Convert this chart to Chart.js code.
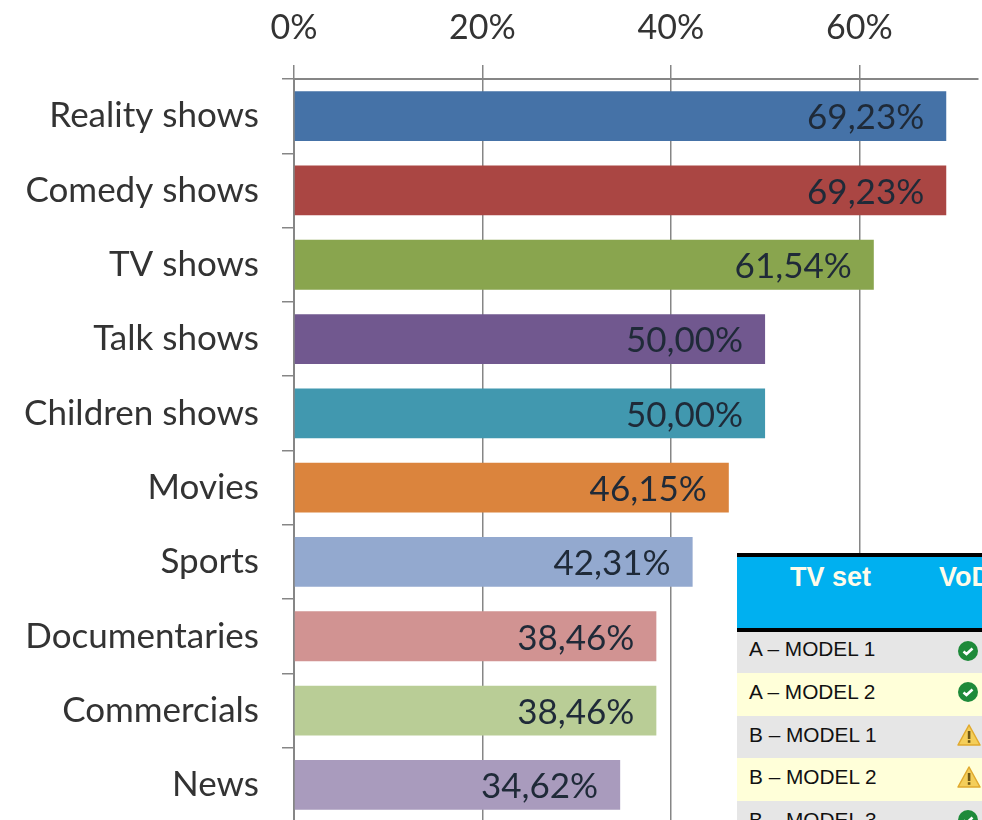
<!DOCTYPE html>
<html><head><meta charset="utf-8">
<script src="https://cdn.jsdelivr.net/npm/chart.js@4"></script>
<style>
html,body{margin:0;padding:0;background:#fff;overflow:hidden;width:982px;height:820px}
#wrap{position:relative;width:982px;height:820px;overflow:hidden}
canvas{position:absolute;left:0;top:0}
#tv{position:absolute;left:737px;top:553px;width:260px;background:#fff;font-family:"Liberation Sans",Arial,sans-serif}
#tv .h{height:71px;background:#00B0F0;border-top:4px solid #000;border-bottom:4px solid #000;position:relative;color:#FFFBEA;font-weight:bold;font-size:27px}
#tv .h span{position:absolute;top:5px}
#tv .r{position:relative;font-size:20.8px;color:#111}
#tv .r span{position:absolute;left:12px;top:7px;white-space:nowrap}
#tv .r:nth-child(2) span{top:5px}
#tv .r svg{position:absolute;left:220px;top:8px}
</style></head><body>
<div id="wrap"><canvas id="c" width="982" height="822"></canvas><div id="tv"></div></div>
<script>
const categories=["Reality shows","Comedy shows","TV shows","Talk shows","Children shows","Movies","Sports","Documentaries","Commercials","News"];
const values=[69.23,69.23,61.54,50,50,46.15,42.31,38.46,38.46,34.62];
const barColors=["#4572A7","#AA4643","#89A54E","#71588F","#4198AF","#DB843D","#93A9CF","#D19392","#B9CD96","#A99BBD"];
const tableHeaders=["TV set","VoD"];
const tableRows=["A – MODEL 1","A – MODEL 2","B – MODEL 1","B – MODEL 2","B – MODEL 3"];
const tableStatus=["ok","ok","warn","warn","ok"];

const FONT='Lato, "Noto Sans", sans-serif';
const valueLabels={id:'valueLabels',afterDatasetsDraw(chart){
  const ctx=chart.ctx,meta=chart.getDatasetMeta(0);
  ctx.save();ctx.font='35px '+FONT;ctx.fillStyle='#1f2a38';ctx.textAlign='right';ctx.textBaseline='middle';
  meta.data.forEach((b,i)=>ctx.fillText(values[i].toFixed(2).replace('.',',')+'%',b.x-22,b.y+2));
  ctx.restore();
}};
new Chart(document.getElementById('c'),{
  type:'bar',
  data:{labels:categories,datasets:[{data:values,backgroundColor:barColors,borderWidth:0,categoryPercentage:0.67,barPercentage:1}]},
  plugins:[valueLabels],
  options:{indexAxis:'y',responsive:false,animation:false,
    layout:{padding:{left:0,right:4,top:0,bottom:0}},
    plugins:{legend:{display:false},tooltip:{enabled:false}},
    scales:{
      x:{position:'top',min:0,max:72.6,
        ticks:{stepSize:20,includeBounds:false,maxRotation:0,autoSkip:false,padding:17,color:'#333',font:{family:FONT,size:34},callback:v=>v+'%'},
        grid:{color:'#868686',lineWidth:1.5,tickLength:14,drawOnChartArea:true},
        border:{color:'#868686',width:2},
        afterFit(s){s.height=79;}},
      y:{
        ticks:{padding:23,color:'#333',font:{family:FONT,size:35},crossAlign:'near'},
        grid:{color:'#868686',lineWidth:1.5,tickLength:12,drawOnChartArea:false,offset:true},
        border:{color:'#868686',width:2},
        afterFit(s){s.width=294;s.paddingTop=0;s.paddingBottom=0;}}
    }}
});
const okIcon='<svg width="22" height="22" viewBox="0 0 22 22"><circle cx="11" cy="11" r="10" fill="#1E8A3A"/><path d="M6.5 11.5l3 2.5 6-5.5" fill="none" stroke="#fff" stroke-width="2.6"/></svg>';
const warnIcon='<svg width="24" height="22" viewBox="0 0 24 22"><path d="M12 1L23 21H1Z" fill="#F4CE5A" stroke="#E0A92E" stroke-width="1.5" stroke-linejoin="round"/><rect x="10.8" y="7" width="2.6" height="8" fill="#6B5514"/><rect x="10.8" y="16.2" width="2.6" height="2.6" fill="#6B5514"/></svg>';
const rowH=[41,43,42,43,42];
const rowBg=["#E6E6E6","#FFFFD9","#E6E6E6","#FFFFD9","#E6E6E6"];
let html='<div class="h"><span style="left:53px">'+tableHeaders[0]+'</span><span style="left:202px">'+tableHeaders[1]+'</span></div>';
tableRows.forEach((t,i)=>{html+='<div class="r" style="height:'+rowH[i]+'px;background:'+rowBg[i]+'"><span>'+t+'</span>'+(tableStatus[i]==='ok'?okIcon:warnIcon)+'</div>';});
document.getElementById('tv').innerHTML=html;
</script></body></html>
